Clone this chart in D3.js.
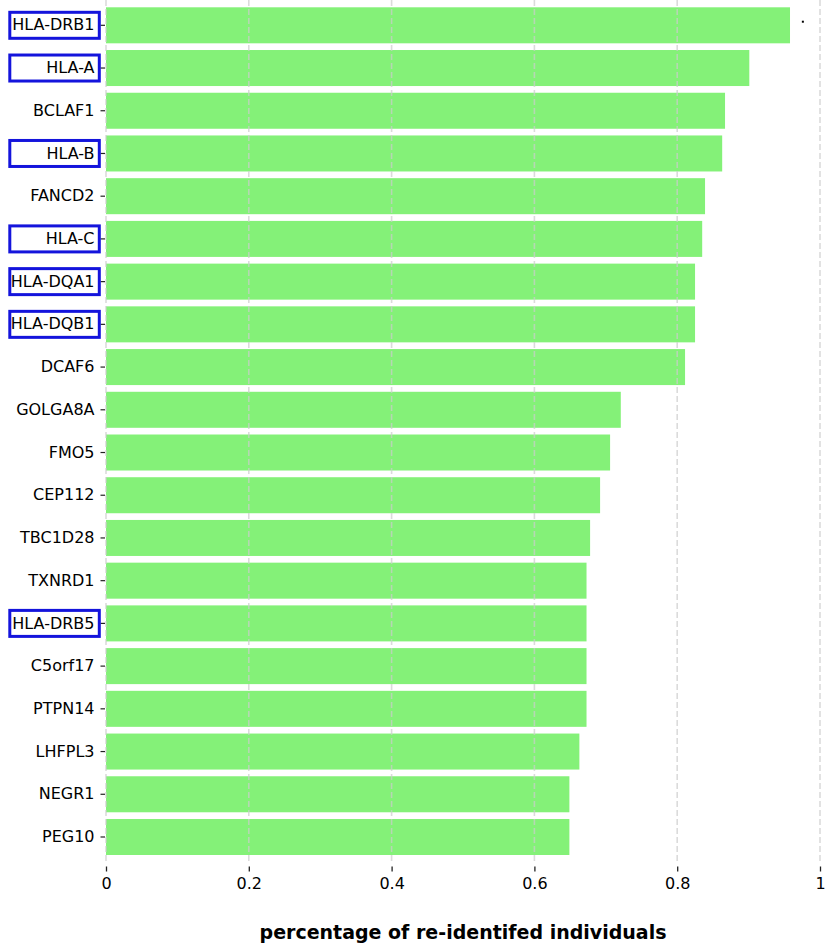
<!DOCTYPE html>
<html>
<head>
<meta charset="utf-8">
<script src="https://cdn.jsdelivr.net/npm/d3@7"></script>
<style>
  html, body { margin: 0; padding: 0; background: #fff; }
  svg { display: block; font-family: "DejaVu Sans", sans-serif; }
</style>
</head>
<body>
<svg id="chart" width="827" height="947"></svg>
<script>
// Genes ranked by share of re-identified individuals
const genes = ["HLA-DRB1", "HLA-A", "BCLAF1", "HLA-B", "FANCD2", "HLA-C", "HLA-DQA1", "HLA-DQB1",
  "DCAF6", "GOLGA8A", "FMO5", "CEP112", "TBC1D28", "TXNRD1", "HLA-DRB5", "C5orf17",
  "PTPN14", "LHFPL3", "NEGR1", "PEG10"];
const values = [0.958, 0.901, 0.867, 0.863, 0.839, 0.835, 0.825, 0.825,
  0.811, 0.721, 0.706, 0.692, 0.678, 0.673, 0.673, 0.673,
  0.673, 0.663, 0.649, 0.649];
// HLA genes get a highlight frame around their label
const highlighted = ["HLA-DRB1", "HLA-A", "HLA-B", "HLA-C", "HLA-DQA1", "HLA-DQB1", "HLA-DRB5"];
// Small point marker
const markers = [{ gene: "HLA-DRB1", value: 0.976 }];
const xTicks = [0, 0.2, 0.4, 0.6, 0.8, 1];
const xTickLabels = ["0", "0.2", "0.4", "0.6", "0.8", "1"];
const xTitle = "percentage of re-identifed individuals";

const svg = d3.select("#chart");
const plot = { left: 106, right: 820, top: 7.3, bottom: 855 };

const x = d3.scaleLinear().domain([0, 1]).range([plot.left, plot.right]);
const y = d3.scaleBand().domain(genes).range([plot.top, plot.bottom]).paddingInner(0.157).paddingOuter(0);

// bars
svg.append("g").selectAll("rect")
  .data(genes.map((g, i) => ({ gene: g, value: values[i] })))
  .join("rect")
  .attr("x", x(0))
  .attr("y", d => y(d.gene))
  .attr("width", d => x(d.value) - x(0))
  .attr("height", y.bandwidth())
  .attr("fill", "#84f178");

// dashed vertical grid
svg.append("g").selectAll("line")
  .data(xTicks)
  .join("line")
  .attr("x1", d => x(d)).attr("x2", d => x(d))
  .attr("y1", 0).attr("y2", 862)
  .attr("stroke", "#cccccc")
  .attr("stroke-opacity", 0.7)
  .attr("stroke-width", 1.6)
  .attr("stroke-dasharray", "6,3");

// markers
svg.append("g").selectAll("rect")
  .data(markers)
  .join("rect")
  .attr("x", d => x(d.value) - 1)
  .attr("y", d => y(d.gene) + y.bandwidth() * 0.4 - 1)
  .attr("width", 2).attr("height", 2)
  .attr("fill", "#000");

// x axis
const xAxis = d3.axisBottom(x)
  .tickValues(xTicks)
  .tickFormat((d, i) => xTickLabels[i])
  .tickSize(5)
  .tickPadding(6);
const gx = svg.append("g").attr("transform", "translate(0,866.5)").call(xAxis);
gx.select(".domain").remove();
gx.selectAll(".tick line").attr("stroke", "#222").attr("stroke-width", 1.3);
gx.selectAll(".tick text").attr("font-size", 16).attr("fill", "#000")
  .attr("font-family", "DejaVu Sans, sans-serif");

// y axis
const yAxis = d3.axisLeft(y).tickSize(4.5).tickPadding(6);
const gy = svg.append("g").attr("transform", "translate(105,0)").call(yAxis);
gy.select(".domain").remove();
gy.selectAll(".tick line").attr("stroke", "#222").attr("stroke-width", 1.2);
gy.selectAll(".tick text").attr("font-size", 16).attr("fill", "#000")
  .attr("font-family", "DejaVu Sans, sans-serif");

// highlight frames
svg.append("g").selectAll("rect")
  .data(highlighted)
  .join("rect")
  .attr("x", 9.8)
  .attr("y", d => y(d) + y.bandwidth() / 2 - 13)
  .attr("width", 89.5)
  .attr("height", 26)
  .attr("fill", "none")
  .attr("stroke", "#1414dc")
  .attr("stroke-width", 3);

// axis title
svg.append("text")
  .attr("x", (plot.left + plot.right) / 2)
  .attr("y", 939)
  .attr("text-anchor", "middle")
  .attr("font-size", 19)
  .attr("font-weight", "bold")
  .attr("fill", "#000")
  .text(xTitle);
</script>
</body>
</html>
